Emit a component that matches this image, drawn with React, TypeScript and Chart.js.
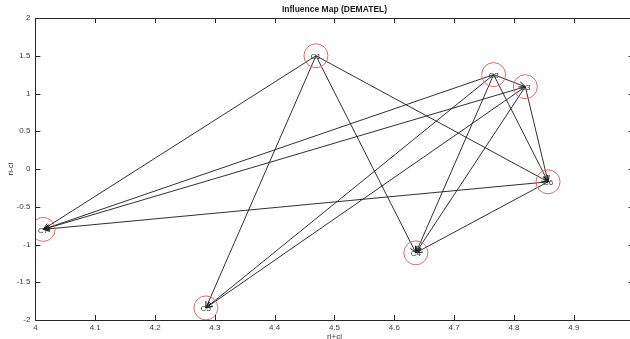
import React, { useEffect, useRef } from "react";
import { Chart, registerables } from "chart.js";

Chart.register(...registerables);

const nodeLabels = ["C1", "C2", "C3", "C4", "C5", "C6", "C7"];
const nodeX = [4.469, 4.766, 4.819, 4.636, 4.285, 4.857, 4.013];
const nodeY = [1.5, 1.25, 1.09, -1.11, -1.84, -0.17, -0.8];

const edgeFrom = ["C1", "C1", "C1", "C1", "C2", "C2", "C2", "C2", "C2", "C3", "C3", "C3", "C3", "C6", "C6"];
const edgeTo = ["C7", "C5", "C4", "C6", "C7", "C5", "C4", "C6", "C3", "C7", "C5", "C4", "C6", "C4", "C7"];

const xMin = 4;
const xMax = 5;
const xStep = 0.1;
const yMin = -2;
const yMax = 2;
const yStep = 0.5;

const titleText = "Influence Map (DEMATEL)";
const xTitle = "ri+ci";
const yTitle = "ri-ci";

const FONT = "'Liberation Sans', Arial, sans-serif";

function nodePoint(label: string) {
  const i = nodeLabels.indexOf(label);
  return { x: nodeX[i], y: nodeY[i] };
}

const decorPlugin = {
  id: "decor",
  afterDatasetsDraw(chart: any) {
    const ctx = chart.ctx;
    const xs = chart.scales.x;
    const ys = chart.scales.y;
    const area = chart.chartArea;
    ctx.save();
    // arrowheads
    ctx.strokeStyle = "#1a1a1a";
    ctx.lineWidth = 1;
    for (let k = 0; k < edgeFrom.length; k++) {
      const a = nodePoint(edgeFrom[k]);
      const b = nodePoint(edgeTo[k]);
      const ax = xs.getPixelForValue(a.x);
      const ay = ys.getPixelForValue(a.y);
      const bx = xs.getPixelForValue(b.x);
      const by = ys.getPixelForValue(b.y);
      const ang = Math.atan2(by - ay, bx - ax);
      const len = 7;
      const spread = 0.4;
      ctx.beginPath();
      ctx.moveTo(bx - len * Math.cos(ang - spread), by - len * Math.sin(ang - spread));
      ctx.lineTo(bx, by);
      ctx.lineTo(bx - len * Math.cos(ang + spread), by - len * Math.sin(ang + spread));
      ctx.stroke();
    }
    // node labels
    ctx.fillStyle = "#333";
    ctx.font = `8px ${FONT}`;
    ctx.textAlign = "center";
    ctx.textBaseline = "middle";
    for (let i = 0; i < nodeLabels.length; i++) {
      ctx.fillText(nodeLabels[i], xs.getPixelForValue(nodeX[i]), ys.getPixelForValue(nodeY[i]) + 1);
    }
    // frame
    ctx.strokeStyle = "#262626";
    ctx.lineWidth = 1;
    ctx.beginPath();
    ctx.rect(Math.round(area.left) + 0.5, Math.round(area.top) + 0.5, Math.round(area.right - area.left), Math.round(area.bottom - area.top));
    ctx.stroke();
    // inward ticks on all sides
    const tl = 5;
    ctx.beginPath();
    for (let v = xMin; v <= xMax + 1e-9; v += xStep) {
      const px = Math.round(xs.getPixelForValue(v)) + 0.5;
      ctx.moveTo(px, area.bottom);
      ctx.lineTo(px, area.bottom - tl);
      ctx.moveTo(px, area.top);
      ctx.lineTo(px, area.top + tl);
    }
    for (let v = yMin; v <= yMax + 1e-9; v += yStep) {
      const py = Math.round(ys.getPixelForValue(v)) + 0.5;
      ctx.moveTo(area.left, py);
      ctx.lineTo(area.left + tl, py);
      ctx.moveTo(area.right, py);
      ctx.lineTo(area.right - tl, py);
    }
    ctx.stroke();
    // titles
    ctx.fillStyle = "#1a1a1a";
    ctx.font = `bold 8.5px ${FONT}`;
    ctx.textBaseline = "middle";
    ctx.fillText(titleText, (area.left + area.right) / 2, 10);
    ctx.fillStyle = "#333";
    ctx.font = `8px ${FONT}`;
    ctx.fillText(xTitle, (area.left + area.right) / 2, 337);
    ctx.save();
    ctx.translate(11, (area.top + area.bottom) / 2);
    ctx.rotate(-Math.PI / 2);
    ctx.fillText(yTitle, 0, 0);
    ctx.restore();
    ctx.restore();
  },
};

export default function App() {
  const ref = useRef<HTMLCanvasElement | null>(null);
  useEffect(() => {
    if (!ref.current) return;
    const datasets: any[] = [
      {
        type: "scatter",
        data: nodeLabels.map((_, i) => ({ x: nodeX[i], y: nodeY[i] })),
        pointRadius: 12,
        pointStyle: "circle",
        borderColor: "#dd6b6b",
        backgroundColor: "rgba(0,0,0,0)",
        borderWidth: 1,
        order: 0,
      },
    ];
    for (let k = 0; k < edgeFrom.length; k++) {
      datasets.push({
        type: "line",
        data: [nodePoint(edgeFrom[k]), nodePoint(edgeTo[k])],
        borderColor: "#1a1a1a",
        borderWidth: 0.9,
        pointRadius: 0,
        fill: false,
        tension: 0,
        order: 1,
      });
    }
    const chart = new Chart(ref.current, {
      type: "scatter",
      data: { datasets },
      options: {
        responsive: false,
        animation: false,
        events: [],
        layout: { autoPadding: false, padding: { left: 0, top: 18, right: 6.4, bottom: 0 } },
        plugins: { legend: { display: false }, tooltip: { enabled: false }, title: { display: false } },
        scales: {
          x: {
            type: "linear",
            min: xMin,
            max: xMax,
            grid: { display: false, drawTicks: false },
            border: { display: false },
            ticks: {
              stepSize: xStep,
              padding: 3,
              color: "#404040",
              font: { family: FONT, size: 8 },
              maxRotation: 0,
              autoSkip: false,
              callback: (v: any) => String(Number(Number(v).toFixed(1))),
            },
            afterFit: (s: any) => {
              s.height = 19;
              s.paddingLeft = 0;
              s.paddingRight = 0;
            },
          },
          y: {
            type: "linear",
            min: yMin,
            max: yMax,
            grid: { display: false, drawTicks: false },
            border: { display: false },
            ticks: {
              stepSize: yStep,
              padding: 5,
              color: "#404040",
              font: { family: FONT, size: 8 },
              autoSkip: false,
              callback: (v: any) => String(Number(Number(v).toFixed(1))),
            },
            afterFit: (s: any) => {
              s.width = 35.4;
              s.paddingTop = 0;
              s.paddingBottom = 0;
            },
          },
        },
      },
      plugins: [decorPlugin],
    });
    return () => chart.destroy();
  }, []);
  return (
    <div style={{ position: "fixed", left: 0, top: 0, width: 640, height: 339, background: "#fff", overflow: "hidden" }}>
      <canvas ref={ref} width={640} height={339} style={{ display: "block" }} />
    </div>
  );
}
